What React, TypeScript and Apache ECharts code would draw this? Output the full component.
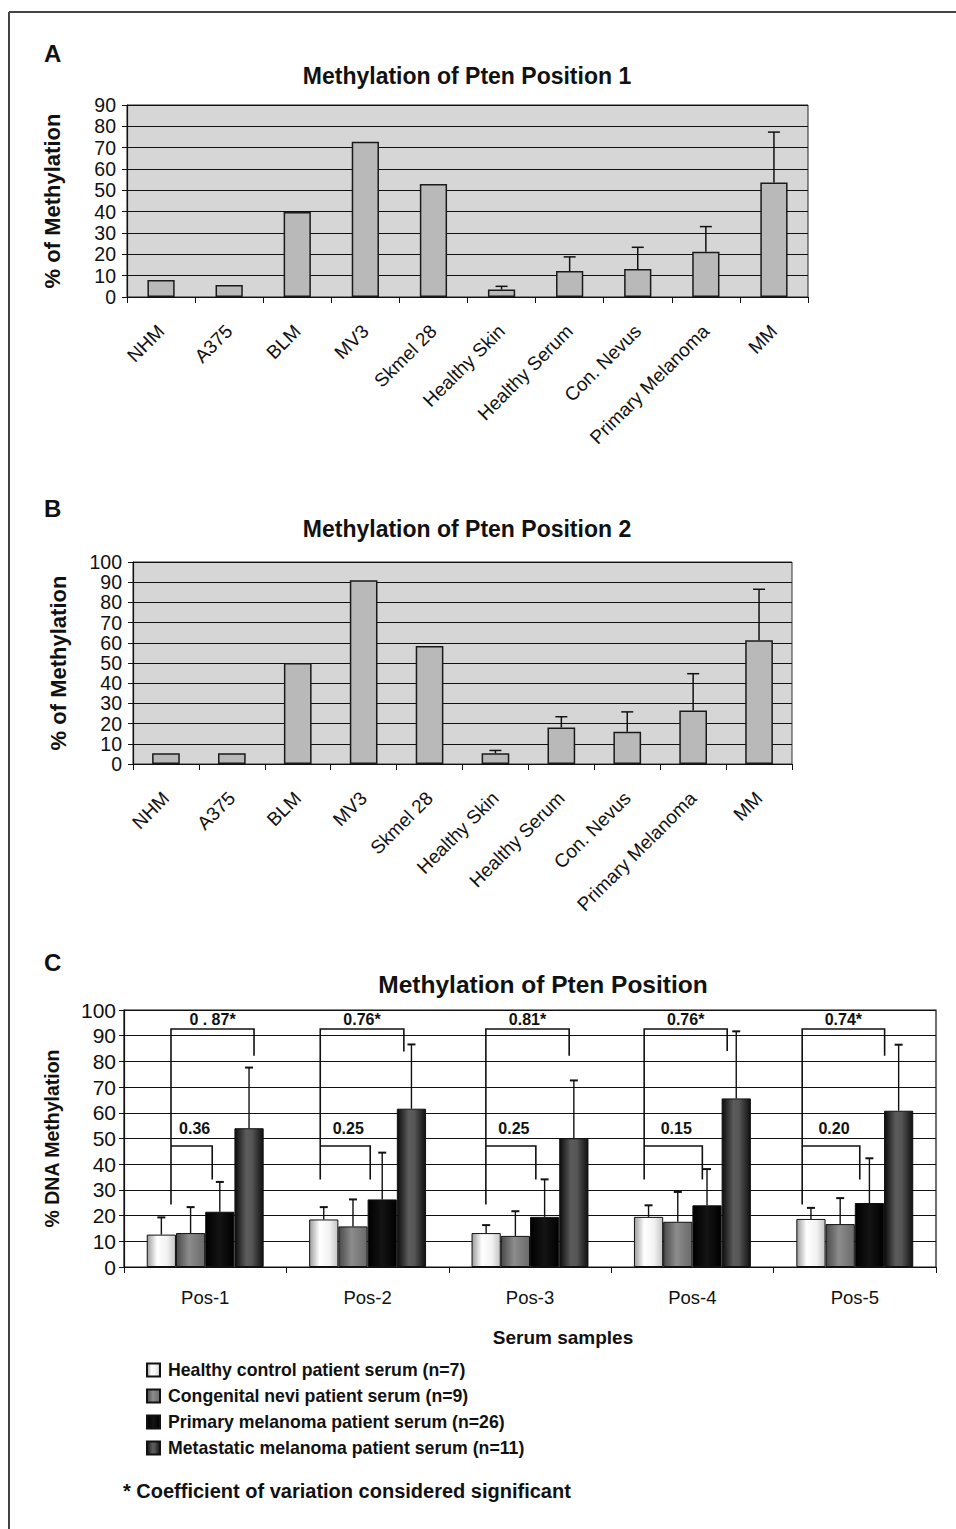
import React, { useEffect, useRef } from "react";
import * as echarts from "echarts";

// ---------- Data ----------
const categoriesAB = ["NHM", "A375", "BLM", "MV3", "Skmel 28", "Healthy Skin", "Healthy Serum", "Con. Nevus", "Primary Melanoma", "MM"];
const pos1Values = [8, 5.6, 39.8, 72.8, 53, 3.5, 12.2, 13.1, 21.2, 53.7];
const pos1ErrTop = [null, null, null, null, null, 5, 18.8, 23.3, 33, 77.3];
const pos2Values = [5.3, 5.3, 50, 91, 58.4, 5.3, 18.1, 16, 26.5, 61.3];
const pos2ErrTop = [null, null, null, null, null, 6.7, 23.4, 25.8, 44.7, 86.5];

const positionsC = ["Pos-1", "Pos-2", "Pos-3", "Pos-4", "Pos-5"];
const groupNames = [
  "Healthy control patient serum (n=7)",
  "Congenital nevi patient serum (n=9)",
  "Primary melanoma patient serum (n=26)",
  "Metastatic melanoma patient serum (n=11)",
];
const healthyValues = [12.6, 18.5, 13.2, 19.5, 18.7];
const healthyErrTop = [19.3, 23.3, 16.3, 24, 23];
const nevusValues = [13.2, 15.8, 12.1, 17.6, 16.7];
const nevusErrTop = [23.3, 26.3, 21.7, 29.2, 26.8];
const primaryValues = [21.5, 26.3, 19.5, 24, 24.9];
const primaryErrTop = [33.1, 44.5, 34.1, 38.1, 42.3];
const metastaticValues = [54, 61.6, 50.1, 65.6, 60.8];
const metastaticErrTop = [77.6, 86.6, 72.6, 91.7, 86.5];

// coefficient-of-variation brackets (values on the y scale)
const cvOuterLabels = ["0 . 87*", "0.76*", "0.81*", "0.76*", "0.74*"];
const cvInnerLabels = ["0.36", "0.25", "0.25", "0.15", "0.20"];
const bracketOuterTop = [92.6, 92.6, 92.6, 92.6, 92.6];
const bracketLeftBottom = [24.3, 34, 24.3, 34, 24.3];
const bracketOuterRightBottom = [82.2, 83.9, 82.2, 84, 82.2];
const bracketInnerTop = [47.1, 47.1, 47.1, 47.1, 47.1];
const bracketInnerRightBottom = [34, 34, 34, 34, 34];
// leg offsets from the group centre, in bar widths
const bracketLeftOff = [-1.17, -1.62, -1.51, -1.65, -1.8];
const bracketOuterRightOff = [1.67, 1.24, 1.34, 1.19, 1.02];
const bracketInnerRightOff = [0.24, 0.09, 0.2, 0.34, 0.17];

const FONT = "'Liberation Sans', Arial, Helvetica, sans-serif";
const C_BAR_FRAC = 0.18;

const gradH = (stops: [number, string][]) =>
  new echarts.graphic.LinearGradient(0, 0, 1, 0, stops.map(([offset, color]) => ({ offset, color })));

const groupColors = [
  gradH([[0, "#9c9c9c"], [0.35, "#ffffff"], [0.7, "#f2f2f2"], [1, "#c4c4c4"]]),
  gradH([[0, "#4a4a4a"], [0.45, "#8c8c8c"], [1, "#6a6a6a"]]),
  gradH([[0, "#000000"], [0.5, "#141414"], [1, "#000000"]]),
  gradH([[0, "#0c0c0c"], [0.4, "#5c5c5c"], [0.6, "#565656"], [1, "#101010"]]),
];
const groupValues = [healthyValues, nevusValues, primaryValues, metastaticValues];
const groupErr = [healthyErrTop, nevusErrTop, primaryErrTop, metastaticErrTop];

function errRenderAB(params: any, api: any) {
  const i = api.value(0);
  const top = api.value(1);
  const base = api.value(2);
  const p1 = api.coord([i, base]);
  const p2 = api.coord([i, top]);
  const hw = 6;
  const st = { stroke: "#111", lineWidth: 1.5 };
  return {
    type: "group",
    children: [
      { type: "line", shape: { x1: p1[0], y1: p1[1], x2: p2[0], y2: p2[1] }, style: st },
      { type: "line", shape: { x1: p2[0] - hw, y1: p2[1], x2: p2[0] + hw, y2: p2[1] }, style: st },
    ],
  };
}

function errRenderC(params: any, api: any) {
  const cat = api.value(0);
  const s = api.value(1);
  const top = api.value(2);
  const base = api.value(3);
  const bw = api.size([1, 0])[0] * C_BAR_FRAC;
  const off = (s - 1.5) * bw;
  const p1 = api.coord([cat, base]);
  const p2 = api.coord([cat, top]);
  const x = p1[0] + off;
  const hw = 4;
  const st = { stroke: "#111", lineWidth: 1.4 };
  return {
    type: "group",
    children: [
      { type: "line", shape: { x1: x, y1: p1[1], x2: x, y2: p2[1] }, style: st },
      { type: "line", shape: { x1: x - hw, y1: p2[1], x2: x + hw, y2: p2[1] }, style: { stroke: "#111", lineWidth: 2 } },
    ],
  };
}

function bracketRender(params: any, api: any) {
  const k = params.dataIndex;
  const cat = api.value(0);
  const bw = api.size([1, 0])[0] * C_BAR_FRAC;
  const cx = api.coord([cat, 0])[0];
  const y = (v: number) => api.coord([cat, v])[1];
  const xl = cx + bracketLeftOff[k] * bw;
  const xr = cx + bracketOuterRightOff[k] * bw;
  const xi = cx + bracketInnerRightOff[k] * bw;
  const st = { stroke: "#111", lineWidth: 1.6, fill: "none" };
  const yTop = y(bracketOuterTop[k]);
  const yIn = y(bracketInnerTop[k]);
  const txt = (x: number, yy: number, text: string) => ({
    type: "text",
    x,
    y: yy,
    style: { text, fontFamily: FONT, fontWeight: "bold", fontSize: 16, fill: "#111", align: "center", verticalAlign: "middle" },
  });
  return {
    type: "group",
    children: [
      { type: "polyline", shape: { points: [[xl, y(bracketLeftBottom[k])], [xl, yTop], [xr, yTop], [xr, y(bracketOuterRightBottom[k])]] }, style: st },
      { type: "polyline", shape: { points: [[xl, yIn], [xi, yIn], [xi, y(bracketInnerRightBottom[k])]] }, style: st },
      txt((xl + xr) / 2, y(bracketOuterTop[k] + 3.6), cvOuterLabels[k]),
      txt((xl + xi) / 2 + 3, y(bracketInnerTop[k] + 6.6), cvInnerLabels[k]),
    ],
  };
}

export default function App() {
  const ref = useRef<HTMLDivElement>(null);
  useEffect(() => {
    if (!ref.current) return;
    const chart = echarts.init(ref.current, undefined, { renderer: "svg" });

    const abYAxis = (gridIndex: number, max: number, name: string) => ({
      type: "value",
      gridIndex,
      min: 0,
      max,
      interval: 10,
      name,
      nameLocation: "middle",
      nameGap: 64,
      nameTextStyle: { fontFamily: FONT, fontWeight: "bold", fontSize: 22, color: "#111" },
      axisLine: { show: true, lineStyle: { color: "#111", width: 1.2 } },
      axisTick: { show: true, length: 5, lineStyle: { color: "#111" } },
      axisLabel: { fontFamily: FONT, fontSize: 19.5, color: "#111", margin: 11 },
      splitLine: { show: true, lineStyle: { color: "#111", width: 1.1 } },
    });
    const abXAxis = (gridIndex: number) => ({
      type: "category",
      gridIndex,
      data: categoriesAB,
      axisLine: { show: true, lineStyle: { color: "#111", width: 1.2 } },
      axisTick: { show: true, length: 6, lineStyle: { color: "#111" } },
      axisLabel: { fontFamily: FONT, fontSize: 19, color: "#111", rotate: 45, margin: 31, interval: 0 },
    });
    const barAB = (idx: number, values: number[], width: string) => ({
      type: "bar",
      xAxisIndex: idx,
      yAxisIndex: idx,
      data: values,
      barWidth: width,
      itemStyle: { color: "#b9b9b9", borderColor: "#1a1a1a", borderWidth: 1.5 },
      z: 2,
    });
    const errAB = (idx: number, values: number[], errs: (number | null)[]) => ({
      type: "custom",
      xAxisIndex: idx,
      yAxisIndex: idx,
      renderItem: errRenderAB,
      encode: { x: 0, y: 1 },
      data: errs
        .map((e, i) => (e == null ? null : [i, e, values[i]]))
        .filter((d) => d != null),
      z: 3,
    });

    const cSeriesBars = groupNames.map((name, s) => ({
      type: "bar",
      name,
      xAxisIndex: 2,
      yAxisIndex: 2,
      data: groupValues[s],
      barWidth: C_BAR_FRAC * 100 + "%",
      barGap: "0%",
      itemStyle: { color: groupColors[s], borderColor: "#111", borderWidth: 1 },
      z: 2,
    }));
    const cErrData: number[][] = [];
    groupNames.forEach((_, s) => {
      positionsC.forEach((__, c) => {
        cErrData.push([c, s, groupErr[s][c], groupValues[s][c]]);
      });
    });

    const option: any = {
      animation: false,
      backgroundColor: "#ffffff",
      textStyle: { fontFamily: FONT },
      title: [
        { text: "Methylation of Pten Position 1", left: 462, top: 59, textAlign: "center", textStyle: { fontFamily: FONT, fontWeight: "bold", fontSize: 23, color: "#111" } },
        { text: "Methylation of Pten Position 2", left: 462, top: 512, textAlign: "center", textStyle: { fontFamily: FONT, fontWeight: "bold", fontSize: 23, color: "#111" } },
        { text: "Methylation of Pten Position", left: 538, top: 967, textAlign: "center", textStyle: { fontFamily: FONT, fontWeight: "bold", fontSize: 24.5, color: "#111" } },
      ],
      legend: {
        data: groupNames,
        orient: "vertical",
        left: 141,
        top: 1356,
        itemWidth: 13,
        itemHeight: 13,
        itemGap: 8,
        icon: "rect",
        textStyle: { fontFamily: FONT, fontWeight: "bold", fontSize: 17.7, color: "#111", padding: [0, 0, 0, 3] },
      },
      grid: [
        { left: 127, top: 105, width: 681, height: 192, show: true, backgroundColor: "#d6d6d6", borderColor: "#222", borderWidth: 1 },
        { left: 133, top: 562, width: 659, height: 202, show: true, backgroundColor: "#d6d6d6", borderColor: "#333", borderWidth: 1 },
        { left: 124, top: 1010, width: 812, height: 257, show: true, backgroundColor: "#ffffff", borderColor: "#111", borderWidth: 1.2 },
      ],
      xAxis: [
        abXAxis(0),
        abXAxis(1),
        {
          type: "category",
          gridIndex: 2,
          data: positionsC,
          axisLine: { show: true, lineStyle: { color: "#111", width: 1.2 } },
          axisTick: { show: true, length: 6, lineStyle: { color: "#111" } },
          axisLabel: { fontFamily: FONT, fontSize: 18.5, color: "#111", margin: 21 },
        },
      ],
      yAxis: [
        abYAxis(0, 90, "% of Methylation"),
        abYAxis(1, 100, "% of Methylation"),
        {
          type: "value",
          gridIndex: 2,
          min: 0,
          max: 100,
          interval: 10,
          name: "% DNA Methylation",
          nameLocation: "middle",
          nameGap: 62,
          nameTextStyle: { fontFamily: FONT, fontWeight: "bold", fontSize: 19.5, color: "#111" },
          axisLine: { show: true, lineStyle: { color: "#111", width: 1.2 } },
          axisTick: { show: true, length: 5, lineStyle: { color: "#111" } },
          axisLabel: { fontFamily: FONT, fontSize: 21, color: "#111", margin: 8 },
          splitLine: { show: true, lineStyle: { color: "#111", width: 1.2 } },
        },
      ],
      series: [
        barAB(0, pos1Values, "40%"),
        errAB(0, pos1Values, pos1ErrTop),
        barAB(1, pos2Values, "42%"),
        errAB(1, pos2Values, pos2ErrTop),
        ...cSeriesBars,
        {
          type: "custom",
          xAxisIndex: 2,
          yAxisIndex: 2,
          renderItem: errRenderC,
          encode: { x: 0, y: 2 },
          data: cErrData,
          z: 3,
        },
        {
          type: "custom",
          xAxisIndex: 2,
          yAxisIndex: 2,
          renderItem: bracketRender,
          encode: { x: 0, y: 1 },
          data: positionsC.map((_, c) => [c, bracketOuterTop[c]]),
          z: 4,
        },
      ],
      graphic: [
        { type: "line", shape: { x1: 9, y1: 12, x2: 956, y2: 12 }, style: { stroke: "#444", lineWidth: 2 } },
        { type: "line", shape: { x1: 9, y1: 12, x2: 9, y2: 1529 }, style: { stroke: "#444", lineWidth: 2 } },
        { type: "text", left: 44, top: 41, style: { text: "A", fontFamily: FONT, fontWeight: "bold", fontSize: 24, fill: "#111" } },
        { type: "text", left: 44, top: 496, style: { text: "B", fontFamily: FONT, fontWeight: "bold", fontSize: 24, fill: "#111" } },
        { type: "text", left: 44, top: 950, style: { text: "C", fontFamily: FONT, fontWeight: "bold", fontSize: 24, fill: "#111" } },
        { type: "text", x: 563, y: 1337, style: { text: "Serum samples", fontFamily: FONT, fontWeight: "bold", fontSize: 19, fill: "#111", align: "center", verticalAlign: "middle" } },
        { type: "text", left: 123, top: 1481, style: { text: "* Coefficient of variation considered significant", fontFamily: FONT, fontWeight: "bold", fontSize: 20, fill: "#111" } },
      ],
    };
    chart.setOption(option);
    return () => chart.dispose();
  }, []);
  return <div ref={ref} style={{ position: "absolute", left: 0, top: 0, width: 956, height: 1529 }} />;
}
